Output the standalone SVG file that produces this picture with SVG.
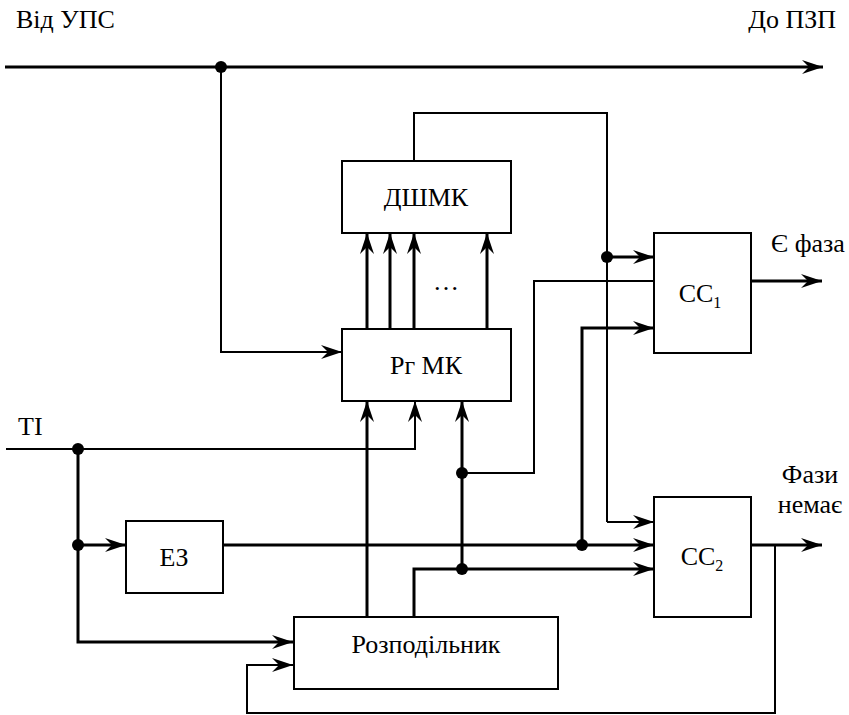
<svg xmlns="http://www.w3.org/2000/svg" width="849" height="715" viewBox="0 0 849 715">
<defs>
<marker id="ar" markerUnits="userSpaceOnUse" markerWidth="24" markerHeight="16" viewBox="-22 -8 24 16" refX="0" refY="0" orient="auto">
<path d="M0,0 L-21,-7 L-14,0 L-21,7 Z" fill="#000"/>
</marker>
</defs>
<style>
.box{fill:#fff;stroke:#000;stroke-width:2}
.t{font-family:'Liberation Serif','Times New Roman',serif;font-size:26px;fill:#000}
.th{fill:none;stroke:#000;stroke-width:3}
.tn{fill:none;stroke:#000;stroke-width:2}
.a{marker-end:url(#ar)}
</style>
<rect width="849" height="715" fill="#fff"/>
<g id="connectors">
<path class="th a" d="M5,67 H823"/>
<path class="tn a" d="M221,67 V352 H342"/>
<path class="tn" d="M414,161 V113 H607 V522"/>
<path class="tn a" d="M607,522 H654"/>
<path class="th a" d="M607,257 H654"/>
<path class="th a" d="M367,329 V233"/>
<path class="th a" d="M390,329 V233"/>
<path class="th a" d="M414,329 V233"/>
<path class="th a" d="M487,329 V233"/>
<path class="th a" d="M751,281 H822"/>
<path class="tn" d="M654,281 H534 V473 H462"/>
<path class="th a" d="M582,545 V328 H654"/>
<path class="tn a" d="M6,449 H415 V401"/>
<path class="th a" d="M78,449 V642 H293"/>
<path class="th a" d="M78,545 H126"/>
<path class="th a" d="M223,545 H654"/>
<path class="th a" d="M367,617 V401"/>
<path class="th a" d="M462,569 V401"/>
<path class="th a" d="M414,617 V569 H654"/>
<path class="th a" d="M751,545 H822"/>
<path class="tn a" d="M775,545 V713 H247 V665 H293"/>
<circle cx="221" cy="67" r="6"/>
<circle cx="607" cy="257" r="6"/>
<circle cx="78" cy="449" r="6"/>
<circle cx="78" cy="545" r="6"/>
<circle cx="462" cy="473" r="6"/>
<circle cx="462" cy="569" r="6"/>
<circle cx="582" cy="545" r="6"/>
</g>
<g id="dshmk">
<rect class="box" x="342" y="161" width="169" height="72"/>
<text class="t" x="426" y="206" text-anchor="middle">ДШМК</text>
</g>
<g id="rgmk">
<rect class="box" x="342" y="329" width="169" height="72"/>
<text class="t" x="426" y="374" text-anchor="middle">Рг МК</text>
<text class="t" x="446" y="290" text-anchor="middle">…</text>
</g>
<g id="cc1">
<rect class="box" x="654" y="233" width="97" height="120"/>
<text class="t" x="700" y="302" text-anchor="middle">CC<tspan font-size="16" dy="6">1</tspan></text>
</g>
<g id="cc2">
<rect class="box" x="654" y="497" width="97" height="120"/>
<text class="t" x="702" y="565" text-anchor="middle">CC<tspan font-size="16" dy="6">2</tspan></text>
</g>
<g id="ez">
<rect class="box" x="126" y="521" width="97" height="72"/>
<text class="t" x="174" y="566" text-anchor="middle">ЕЗ</text>
</g>
<g id="rozpodilnyk">
<rect class="box" x="294" y="617" width="264" height="72"/>
<text class="t" x="426" y="653" text-anchor="middle">Розподільник</text>
</g>
<g id="labels">
<text class="t" x="16" y="28">Від УПС</text>
<text class="t" x="836" y="28" text-anchor="end">До ПЗП</text>
<text class="t" x="771" y="252">Є фаза</text>
<text class="t" x="18" y="435">ТІ</text>
<text class="t" x="810" y="483" text-anchor="middle">Фази</text>
<text class="t" x="810" y="513" text-anchor="middle">немає</text>
</g>
</svg>
